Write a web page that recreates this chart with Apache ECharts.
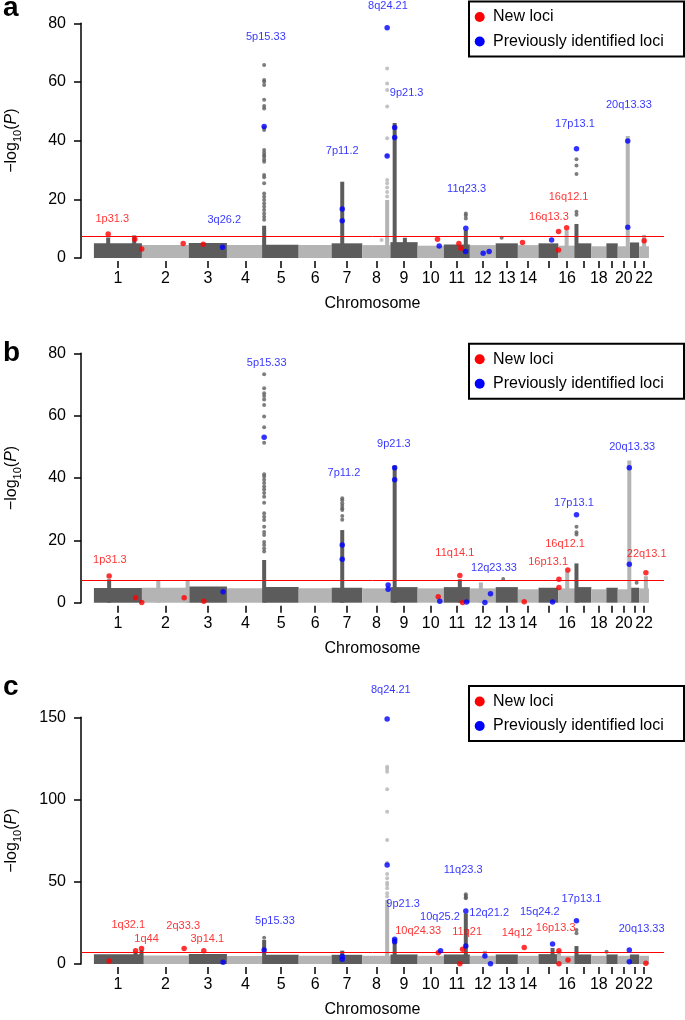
<!DOCTYPE html>
<html>
<head>
<meta charset="utf-8">
<script src="https://cdn.jsdelivr.net/npm/echarts@6/dist/echarts.min.js"></script>
<style>
html, body { margin: 0; padding: 0; background: #fff; }
#panel { width: 685px; height: 1020px; }
</style>
</head>
<body>
<div id="panel"></div>
<script>
// chromosome lengths in Mb (hg19, rounded)
const chrNames = ['1','2','3','4','5','6','7','8','9','10','11','12','13','14','15','16','17','18','19','20','21','22'];
const chrLen = [249,243,198,191,181,171,159,146,141,136,135,134,115,107,103,90,81,78,59,63,48,51];
const chrLabelled = ['1','2','3','4','5','6','7','8','9','10','11','12','13','14','16','18','20','22'];
const threshold = 7.3;

// height of the background cloud per chromosome
const bandA = [5.0,4.4,5.1,4.4,4.5,4.4,5.0,4.4,5.4,4.2,4.6,4.4,5.0,4.4,5.0,4.2,5.0,4.0,5.0,4.0,5.3,4.0];
const bandB = [4.7,4.8,5.2,4.6,5.0,4.6,4.8,4.6,5.0,4.6,5.0,4.6,5.0,4.3,4.8,4.6,5.0,4.3,4.8,4.3,4.8,4.6];
const bandC = [6.0,5.1,6.1,4.9,5.6,5.0,5.6,5.0,5.8,5.0,5.8,5.0,5.8,5.0,6.0,5.0,5.8,5.0,5.8,5.0,5.8,5.0];

// dense runs of SNPs: [chr, pos Mb, top]
const columnsA = [[1,74,7.0],[1,209,7.7],[5,2,11.0],[7,55,26.0],[8,129,19.8],[9,22,46.0],[9,75,6.9],[11,114,9.5],[16,43,9.5],[17,4,11.6],[20,52,41.6],[22,26,7.9]];
const columnsB = [[1,79,7.5],[2,85,7.1],[2,237,7.1],[5,2,13.7],[7,55,23.3],[9,22,44.0],[11,83,7.5],[12,57,6.5],[16,46,10.0],[17,4,12.6],[20,60,45.6],[22,35,8.5]];
const columnsC = [[1,216,7.5],[1,247,8.5],[5,2,14.6],[7,55,8.1],[8,129,39.0],[9,22,15.6],[11,114,30.8],[12,78,8.0],[15,73,9.7],[16,3,8.0],[17,4,10.9]];

// single grey SNPs: [chr, pos Mb, values]
const dotsA = [
  [5,2,[65.8,60.7,60.1,59.0,53.9,51.8,51.0,44.4,43.6,36.8,35.9,35.1,34.5,33.6,32.8,28.3,27.5,25.5,22.0,20.9,19.8,18.6,17.5,16.4,15.2,14.1,13.0]],
  [8,129,[64.6,59.5,57.3,51.6,40.8,34.9,26.6,25.5,24.0,22.5,21.0]],
  [8,100,[6.1]],
  [11,114,[15.2,14.5,13.5]],
  [13,31,[6.9]],
  [17,4,[33.7,31.5,28.6,15.8,14.7]]
];
const dotsB = [
  [5,2,[73.3,68.8,67.2,66.3,65.2,63.4,59.7,56.3,51.3,41.2,40.5,39.4,38.4,37.3,36.3,35.2,34.0,32.1,28.7,27.6,26.5,24.4,22.7,21.7,19.5,18.5,17.4,16.4]],
  [7,55,[33.5,32.9,31.9,31.1,30.3,29.7,27.8,26.6]],
  [13,39,[7.6]],
  [17,4,[24.4,22.6,21.9]],
  [21,35,[6.4]]
];
const dotsC = [
  [8,129,[120.0,118.6,116.9,106.2,92.6,75.4,61.6,54.7,52.1,49.4,48.0,46.0,43.0,41.0]],
  [11,114,[42.4,41.5,40.5,40.0]],
  [17,4,[20.7,18.7]],
  [5,2,[16.0]],
  [19,1,[7.5]]
];

// coloured loci: [chr, pos Mb, -log10 P, kind]
const lociA = [
  [1,74,8.2,'new'],[1,212,6.4,'new'],[1,248,3.1,'new'],[2,214,4.9,'new'],[3,75,4.7,'new'],
  [10,103,6.4,'new'],[11,78,4.9,'new'],[11,88,3.3,'new'],[14,24,5.3,'new'],[16,1,9.0,'new'],
  [16,1,2.7,'new'],[16,43,10.3,'new'],[22,26,5.9,'new'],
  [3,175,3.7,'prev'],[5,2,44.8,'prev'],[7,55,16.7,'prev'],[7,55,12.7,'prev'],[8,129,78.5,'prev'],
  [8,129,34.8,'prev'],[9,22,44.5,'prev'],[9,22,41.1,'prev'],[10,112,4.1,'prev'],[11,114,10.1,'prev'],
  [11,113,2.2,'prev'],[12,69,1.6,'prev'],[12,100,2.2,'prev'],[15,68,6.1,'prev'],[17,4,37.2,'prev'],
  [20,52,39.9,'prev'],[20,52,10.5,'prev']
];
const lociB = [
  [1,79,8.6,'new'],[1,216,1.6,'new'],[1,248,0.1,'new'],[2,219,1.6,'new'],[3,78,0.5,'new'],
  [10,107,1.9,'new'],[11,83,8.7,'new'],[11,97,0.1,'new'],[14,33,0.3,'new'],[16,3,7.5,'new'],
  [16,3,4.9,'new'],[16,49,10.5,'new'],[22,35,9.6,'new'],
  [3,178,3.5,'prev'],[5,2,53.1,'prev'],[7,55,18.5,'prev'],[7,55,13.9,'prev'],[8,134,5.7,'prev'],
  [8,134,4.3,'prev'],[9,22,43.3,'prev'],[9,22,39.4,'prev'],[10,115,0.5,'prev'],[11,118,0.2,'prev'],
  [12,78,0.1,'prev'],[12,107,2.9,'prev'],[15,73,0.2,'prev'],[17,4,28.2,'prev'],[20,60,43.3,'prev'],
  [20,60,12.3,'prev']
];
const lociC = [
  [1,79,1.8,'new'],[1,216,8.1,'new'],[1,247,9.5,'new'],[2,219,9.5,'new'],[3,78,8.1,'new'],
  [10,107,6.9,'new'],[11,83,0.2,'new'],[11,97,8.9,'new'],[14,33,10.1,'new'],[16,3,8.1,'new'],
  [16,3,0.1,'new'],[16,50,2.4,'new'],[22,35,0.4,'new'],
  [3,178,1.0,'prev'],[5,2,8.5,'prev'],[7,55,4.5,'prev'],[7,55,2.9,'prev'],[8,129,149.0,'prev'],
  [8,129,60.2,'prev'],[9,22,15.0,'prev'],[9,22,13.6,'prev'],[10,119,8.1,'prev'],[11,114,32.2,'prev'],
  [11,114,10.9,'prev'],[12,78,4.9,'prev'],[12,107,0.2,'prev'],[15,73,12.2,'prev'],[17,4,26.3,'prev'],
  [20,60,8.5,'prev'],[20,60,1.4,'prev']
];

// locus names: [text, genome Mb, -log10 P, kind]
const labelsA = [
  ['1p31.3',95,13.2,'new'],['3q26.2',676,13.0,'prev'],['5p15.33',892,75.2,'prev'],['7p11.2',1288,36.5,'prev'],
  ['8q24.21',1525,85.9,'prev'],['9p21.3',1622,56.1,'prev'],['11q23.3',1933,23.4,'prev'],['16q13.3',2360,14.1,'new'],
  ['16q12.1',2462,20.7,'new'],['17p13.1',2495,45.6,'prev'],['20q13.33',2775,52.0,'prev']
];
const labelsB = [
  ['1p31.3',83,13.7,'new'],['5p15.33',896,77.0,'prev'],['7p11.2',1297,41.7,'prev'],['9p21.3',1556,50.8,'prev'],
  ['11q14.1',1872,15.8,'new'],['12q23.33',2075,11.0,'prev'],['16p13.1',2356,13.2,'new'],['16q12.1',2444,18.8,'new'],
  ['17p13.1',2490,31.9,'prev'],['20q13.33',2792,49.8,'prev'],['22q13.1',2867,15.5,'new']
];
const labelsC = [
  ['8q24.21',1540,166.6,'prev'],['1q32.1',178,23.7,'new'],['1q44',273,15.2,'new'],['2q33.3',463,23.3,'new'],
  ['3p14.1',588,15.2,'new'],['5p15.33',939,26.3,'prev'],['9p21.3',1604,36.5,'prev'],['10q25.2',1795,28.8,'prev'],
  ['10q24.33',1682,20.1,'new'],['11q23.3',1915,57.2,'prev'],['11q21',1936,19.3,'new'],['12q21.2',2050,31.2,'prev'],
  ['15q24.2',2313,31.8,'prev'],['14q12',2195,18.7,'new'],['16p13.3',2395,21.7,'new'],['17p13.1',2529,39.5,'prev'],
  ['20q13.33',2841,21.1,'prev']
];

const DARK = '#5c5c5c';
const LIGHT = '#b4b4b4';
const RED = '#ff0000';
const BLUE = '#0000ff';
const FONT = "'Liberation Sans', Arial, sans-serif";

const chrStart = [];
let acc = 0;
chrLen.forEach(l => { chrStart.push(acc); acc += l; });
const chrMid = chrLen.map((l, i) => chrStart[i] + l / 2);
const labelMids = chrLabelled.map(n => chrMid[chrNames.indexOf(n)]);
const gx = (chr, pos) => chrStart[chr - 1] + pos;
const shade = chr => (chr % 2 ? DARK : LIGHT);

const renderBand = (params, api) => {
  const a = api.coord([api.value(0), api.value(2)]);
  const b = api.coord([api.value(1), 0]);
  return { type: 'rect', shape: { x: a[0], y: a[1], width: b[0] - a[0], height: b[1] - a[1] },
    style: { fill: shade(api.value(3)) } };
};
const renderColumn = (params, api) => {
  const t = api.coord([api.value(0), api.value(1)]);
  const b = api.coord([api.value(0), 0]);
  return { type: 'rect', shape: { x: t[0] - 2, y: t[1], width: 4, height: b[1] - t[1] },
    style: { fill: shade(api.value(2)) } };
};

const panels = [
  { band: bandA, columns: columnsA, dots: dotsA, loci: lociA, labels: labelsA, top: 23.3, height: 234.7, max: 80, step: 20 },
  { band: bandB, columns: columnsB, dots: dotsB, loci: lociB, labels: labelsB, top: 353.3, height: 249.4, max: 80, step: 20 },
  { band: bandC, columns: columnsC, dots: dotsC, loci: lociC, labels: labelsC, top: 717.3, height: 246.7, max: 150, step: 50 }
];

const grid = [], xAxis = [], yAxis = [], series = [], graphic = [];
panels.forEach((p, i) => {
  grid.push({ left: 81, right: 21, top: p.top, height: p.height, containLabel: false, outerBoundsMode: 'none' });
  xAxis.push({
    type: 'value', gridIndex: i, min: -67, max: 2957, offset: 3,
    name: 'Chromosome', nameLocation: 'middle', nameGap: 35,
    nameTextStyle: { fontSize: 16, color: '#000', fontFamily: FONT },
    axisLine: { show: false, onZero: false }, splitLine: { show: false },
    axisTick: { show: true, length: 7, lineStyle: { color: '#000', width: 1.5 }, customValues: chrMid },
    axisLabel: { fontSize: 16, color: '#000', margin: 10, fontFamily: FONT, customValues: labelMids,
      formatter: v => chrNames[chrMid.findIndex(m => Math.abs(m - v) < 0.01)] }
  });
  yAxis.push({
    type: 'value', gridIndex: i, min: 0, max: p.max, interval: p.step,
    name: '\u2212log{s|10}({i|P})', nameLocation: 'middle', nameGap: 58, nameRotate: 90,
    nameTextStyle: { fontSize: 16, color: '#000', fontFamily: FONT,
      rich: { s: { fontSize: 11, lineHeight: 22, verticalAlign: 'bottom', fontFamily: FONT },
              i: { fontSize: 16, fontStyle: 'italic', fontFamily: FONT } } },
    axisLine: { show: true, onZero: false, lineStyle: { color: '#000', width: 1.5 } },
    axisTick: { show: true, length: 7, lineStyle: { color: '#000', width: 1.5 } },
    axisLabel: { fontSize: 16, color: '#000', margin: 15, fontFamily: FONT },
    splitLine: { show: false }
  });

  series.push({
    type: 'custom', xAxisIndex: i, yAxisIndex: i, silent: true, z: 1,
    renderItem: renderBand, encode: { x: [0, 1], y: 2 },
    data: p.band.map((h, k) => [chrStart[k], chrStart[k] + chrLen[k], h, k + 1])
  });
  series.push({
    type: 'custom', xAxisIndex: i, yAxisIndex: i, silent: true, z: 2,
    renderItem: renderColumn, encode: { x: 0, y: 1 },
    data: p.columns.map(c => [gx(c[0], c[1]), c[2], c[0]])
  });
  const grey = [];
  p.dots.forEach(d => d[2].forEach(v => grey.push([gx(d[0], d[1]), v, d[0]])));
  series.push({
    type: 'scatter', xAxisIndex: i, yAxisIndex: i, silent: true, z: 3, symbolSize: 4,
    itemStyle: { color: q => shade(q.data[2]) },
    data: grey,
    markLine: { silent: true, symbol: ['none', 'none'], label: { show: false },
      lineStyle: { color: RED, width: 1, type: 'solid' }, data: [{ yAxis: threshold }] }
  });
  ['new', 'prev'].forEach(kind => {
    series.push({
      type: 'scatter', xAxisIndex: i, yAxisIndex: i, silent: true, z: 5, symbolSize: 5.5,
      itemStyle: { color: kind === 'new' ? RED : BLUE },
      data: p.loci.filter(l => l[3] === kind).map(l => [gx(l[0], l[1]), l[2]])
    });
  });
  series.push({
    type: 'scatter', xAxisIndex: i, yAxisIndex: i, silent: true, z: 6, symbolSize: 1, clip: false,
    itemStyle: { color: 'transparent' },
    label: { show: true, position: 'inside', formatter: '{b}', fontSize: 11, fontFamily: FONT },
    data: p.labels.map(l => ({ name: l[0], value: [l[1], l[2]],
      label: { color: l[3] === 'new' ? RED : BLUE } }))
  });

  // legend box, drawn like the base-R legend
  const ly = [0.5, 342.7, 685][i];
  graphic.push({ type: 'rect', left: 468, top: ly, z: 20,
    shape: { width: 215, height: 55 }, style: { fill: '#fff', stroke: '#000', lineWidth: 2 } });
  graphic.push({ type: 'circle', x: 479.7, y: ly + 16.5, z: 21, shape: { r: 5 }, style: { fill: RED } });
  graphic.push({ type: 'circle', x: 479.7, y: ly + 41, z: 21, shape: { r: 5 }, style: { fill: BLUE } });
  graphic.push({ type: 'text', x: 493, y: ly + 16.5, z: 21,
    style: { text: 'New loci', font: '16px ' + FONT, fill: '#000', verticalAlign: 'middle' } });
  graphic.push({ type: 'text', x: 493, y: ly + 41, z: 21,
    style: { text: 'Previously identified loci', font: '16px ' + FONT, fill: '#000', verticalAlign: 'middle' } });
  graphic.push({ type: 'text', x: 3, y: [8.6, 353.6, 687][i], z: 21,
    style: { text: ['a', 'b', 'c'][i], font: 'bold 28px ' + FONT, fill: '#000', verticalAlign: 'middle' } });
});

const myChart = echarts.init(document.getElementById('panel'));
myChart.setOption({
  backgroundColor: '#fff',
  animation: false,
  textStyle: { fontFamily: FONT },
  grid: grid,
  xAxis: xAxis,
  yAxis: yAxis,
  series: series,
  graphic: graphic
});
</script>
</body>
</html>
